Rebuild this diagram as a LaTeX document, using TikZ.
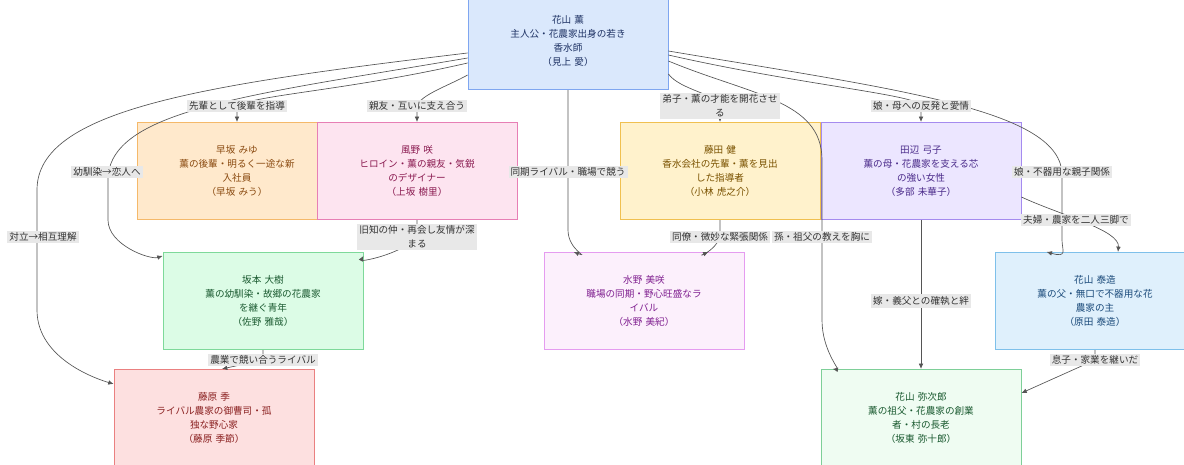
\documentclass[tikz,border=0pt]{standalone}
\usepackage{fontspec}
\setmainfont{Noto Sans CJK JP}
\usetikzlibrary{arrows.meta,calc}
\definecolor{lblbg}{HTML}{E8E8E8}
\definecolor{edgec}{HTML}{555555}
\begin{document}
\begin{tikzpicture}[x=0.75pt,y=-0.75pt,
  every node/.style={font=\fontsize{7.2pt}{10.5pt}\selectfont, align=center},
  box/.style={rectangle, draw, line width=0.6pt, minimum width=150, minimum height=73, text width=100},
  lbl/.style={fill=lblbg, inner sep=1.5pt, text=black!80},
  edge/.style={draw=edgec, line width=0.5pt, -{Latex[length=4pt,width=3.5pt]}}]
  \useasboundingbox (0,0) rectangle (1184,464);

  % characters
  \node[box, fill={rgb,255:red,218;green,232;blue,252}, draw={rgb,255:red,127;green,166;blue,240}, text={rgb,255:red,30;green,50;blue,100}] (kaoru) at (568,41) {花山 薫\\主人公・花農家出身の若き\\香水師\\（見上 愛）};
  \node[box, fill={rgb,255:red,255;green,233;blue,204}, draw={rgb,255:red,245;green,185;blue,106}, text={rgb,255:red,138;green,74;blue,16}] (miyu) at (237,171) {早坂 みゆ\\薫の後輩・明るく一途な新\\入社員\\（早坂 みう）};
  \node[box, fill={rgb,255:red,253;green,228;blue,240}, draw={rgb,255:red,231;green,127;blue,181}, text={rgb,255:red,138;green,26;blue,80}] (saki) at (417,171) {風野 咲\\ヒロイン・薫の親友・気鋭\\のデザイナー\\（上坂 樹里）};
  \node[box, fill={rgb,255:red,255;green,242;blue,204}, draw={rgb,255:red,240;green,192;blue,80}, text={rgb,255:red,122;green,82;blue,0}] (fujita) at (720,171) {藤田 健\\香水会社の先輩・薫を見出\\した指導者\\（小林 虎之介）};
  \node[box, fill={rgb,255:red,236;green,230;blue,255}, draw={rgb,255:red,165;green,139;blue,239}, text={rgb,255:red,74;green,42;blue,138}] (yumiko) at (921,171) {田辺 弓子\\薫の母・花農家を支える芯\\の強い女性\\（多部 未華子）};
  \node[box, fill={rgb,255:red,220;green,252;blue,230}, draw={rgb,255:red,126;green,217;blue,154}, text={rgb,255:red,26;green,90;blue,48}] (daiki) at (263,301) {坂本 大樹\\薫の幼馴染・故郷の花農家\\を継ぐ青年\\（佐野 雅哉）};
  \node[box, fill={rgb,255:red,252;green,240;blue,252}, draw={rgb,255:red,229;green,156;blue,240}, text={rgb,255:red,128;green,32;blue,144}] (misaki) at (644,301) {水野 美咲\\職場の同期・野心旺盛なラ\\イバル\\（水野 美紀）};
  \node[box, fill={rgb,255:red,223;green,240;blue,252}, draw={rgb,255:red,126;green,192;blue,234}, text={rgb,255:red,26;green,74;blue,122}] (taizo) at (1095,301) {花山 泰造\\薫の父・無口で不器用な花\\農家の主\\（原田 泰造）};
  \node[box, fill={rgb,255:red,253;green,224;blue,224}, draw={rgb,255:red,234;green,128;blue,128}, text={rgb,255:red,138;green,32;blue,32}] (ki) at (214,418) {藤原 季\\ライバル農家の御曹司・孤\\独な野心家\\（藤原 季節）};
  \node[box, fill={rgb,255:red,239;green,252;blue,242}, draw={rgb,255:red,126;green,207;blue,152}, text={rgb,255:red,26;green,90;blue,48}] (yajiro) at (921,418) {花山 弥次郎\\薫の祖父・花農家の創業\\者・村の長老\\（坂東 弥十郎）};

  % label spots
  \coordinate (l1) at (43,237);
  \coordinate (l2) at (107,172);
  \coordinate (l3) at (237,106);
  \coordinate (l4) at (417,106);
  \coordinate (l5) at (568,172);
  \coordinate (l6) at (720,106);
  \coordinate (l7) at (822,237);
  \coordinate (l8) at (921,106);
  \coordinate (l9) at (1062,172);
  \coordinate (l10) at (417,237);
  \coordinate (l11) at (720,237);
  \coordinate (l12) at (921,301);
  \coordinate (l13) at (1076,220);
  \coordinate (l14) at (263,360);
  \coordinate (l15) at (1095,360);

  % relations
  \draw[edge] ($(kaoru.west)+(0,12)$) .. controls (200,85) and (37,110) .. (37,190) -- (37,310) .. controls (37,360) and (100,380) .. ($(ki.north west)+(0,15)$);
  \draw[edge] ($(kaoru.west)+(0,17)$) .. controls (250,95) and (108,110) .. (108,180) -- (108,220) .. controls (108,245) and (150,260) .. ($(daiki.north west)+(0,4)$);
  \draw[edge] ($(kaoru.west)+(0,22)$) .. controls (350,90) and (255,95) .. (l3) .. controls (237,115) .. (miyu.north);
  \draw[edge] ($(kaoru.west)+(0,34)$) .. controls (450,85) and (420,95) .. (l4) .. controls (417,115) .. (saki.north);
  \draw[edge] ($(kaoru.south)$) -- (568,230) .. controls (568,250) and (590,258) .. ($(misaki.north west)+(30,0)$);
  \draw[edge] ($(kaoru.east)+(0,33)$) .. controls (680,90) and (720,95) .. (l6) -- (fujita.north);
  \draw[edge] ($(kaoru.east)+(0,20)$) .. controls (750,95) and (822,100) .. (822,160) -- (822,320) .. controls (822,350) and (840,370) .. ($(yajiro.north west)+(12,0)$);
  \draw[edge] ($(kaoru.east)+(0,14)$) .. controls (800,85) and (921,95) .. (l8) -- (yumiko.north);
  \draw[edge] ($(kaoru.east)+(0,10)$) .. controls (900,90) and (1062,110) .. (1062,175) -- (1062,240) .. controls (1062,250) and (1068,258) .. ($(taizo.north west)+(52,0)$);
  \draw[edge] (saki.south) -- (l10) .. controls (400,255) and (360,262) .. ($(daiki.north east)+(0,4)$);
  \draw[edge] (fujita.south) -- (l11) .. controls (715,252) and (695,258) .. ($(misaki.north east)+(-36,0)$);
  \draw[edge] (yumiko.south) -- (yajiro.north);
  \draw[edge] ($(yumiko.east)+(0,26)$) .. controls (1060,215) and (1120,230) .. ($(taizo.north)+(23,0)$);
  \draw[edge] (daiki.south) -- (l14) -- ($(ki.north)+(8,0)$);
  \draw[edge] (taizo.south) -- (l15) -- ($(yajiro.east)+(0,-25)$);

  % labels
  \node[lbl] at (l1) {対立→相互理解};
  \node[lbl] at (l2) {幼馴染→恋人へ};
  \node[lbl] at (l3) {先輩として後輩を指導};
  \node[lbl] at (l4) {親友・互いに支え合う};
  \node[lbl] at (l5) {同期ライバル・職場で競う};
  \node[lbl] at (l6) {弟子・薫の才能を開花させ\\る};
  \node[lbl] at (l7) {孫・祖父の教えを胸に};
  \node[lbl] at (l8) {娘・母への反発と愛情};
  \node[lbl] at (l9) {娘・不器用な親子関係};
  \node[lbl] at (l10) {旧知の仲・再会し友情が深\\まる};
  \node[lbl] at (l11) {同僚・微妙な緊張関係};
  \node[lbl] at (l12) {嫁・義父との確執と絆};
  \node[lbl] at (l13) {夫婦・農家を二人三脚で};
  \node[lbl] at (l14) {農業で競い合うライバル};
  \node[lbl] at (l15) {息子・家業を継いだ};
\end{tikzpicture}
\end{document}
